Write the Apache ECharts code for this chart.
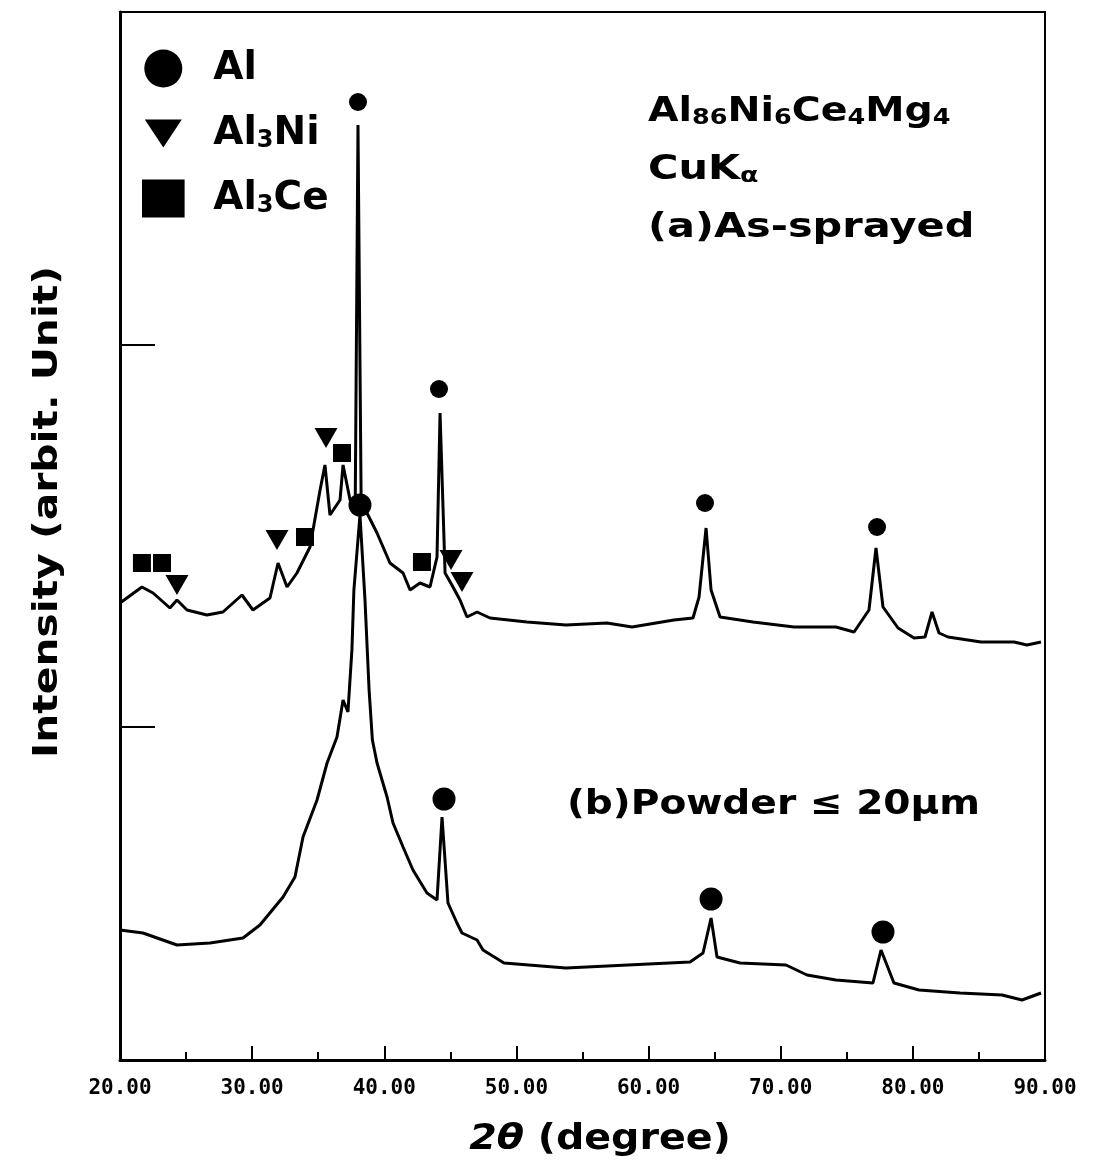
<!DOCTYPE html>
<html>
<head>
<meta charset="utf-8">
<script src="https://cdn.jsdelivr.net/npm/echarts@6/dist/echarts.min.js"></script>
<style>
  html, body { margin: 0; padding: 0; background: #fff; }
  #chart { width: 1096px; height: 1170px; }
</style>
</head>
<body>
<div id="chart"></div>
<script>
// (a) as-sprayed : 2theta (degree) / intensity (arbit. unit)
var thetaA = [20.0, 21.66, 22.50, 23.78, 24.31, 25.07, 26.58, 27.79, 29.23, 30.06, 31.35, 31.96, 32.64, 33.39, 34.38, 35.14, 35.51, 35.89, 36.65, 36.88,
  37.41, 37.80, 38.01, 38.25, 38.69, 39.45, 40.43, 41.42, 41.95, 42.70, 43.46, 43.99, 44.22, 44.60, 45.20, 45.73, 46.26, 47.02, 48.00, 50.80,
  53.75, 56.85, 58.75, 61.92, 63.36, 63.82, 64.35, 64.73, 65.41, 67.90, 71.01, 74.18, 75.55, 76.68, 77.21, 77.74, 78.88, 80.09, 80.92, 81.45,
  81.98, 82.66, 85.16, 87.66, 88.64, 89.70];
var intenA = [457, 473, 467, 452, 460, 450, 445, 448, 465, 450, 462, 497, 473, 487, 513, 570, 595, 545, 560, 595,
  560, 555, 935, 555, 547, 527, 497, 487, 470, 477, 473, 503, 647, 487, 473, 460, 443, 448, 442, 438,
  435, 437, 433, 440, 442, 463, 532, 470, 443, 438, 433, 433, 428, 450, 512, 453, 432, 422, 423, 448,
  427, 423, 418, 418, 415, 418];

// (b) powder <= 20um
var thetaB = [20.0, 21.74, 24.31, 26.81, 29.31, 30.59, 32.34, 33.24, 33.85, 34.91, 35.67, 36.42, 36.88, 37.25, 37.55, 37.70, 38.16, 38.54, 38.85, 39.10,
  39.45, 40.21, 40.66, 41.42, 42.17, 43.23, 43.99, 44.37, 44.82, 45.50, 45.88, 47.02, 47.47, 49.06, 53.75, 58.44, 63.14, 64.12, 64.73, 65.18,
  66.92, 70.40, 71.99, 74.18, 76.98, 77.59, 78.57, 80.47, 83.57, 86.75, 88.26, 89.70];
var intenB = [130, 127, 115, 117, 122, 135, 163, 183, 223, 260, 297, 323, 360, 348, 410, 470, 545, 460, 370, 320,
  297, 263, 237, 213, 190, 167, 160, 243, 157, 137, 127, 120, 110, 97, 92, 95, 98, 107, 142, 103,
  97, 95, 85, 80, 77, 110, 77, 70, 67, 65, 60, 67];

// phase marks
var alThetaA = [38.01, 44.14, 64.27, 77.29];
var alIntenA = [958, 671, 557, 533];
var alThetaB = [38.16, 44.52, 64.73, 77.74];
var alIntenB = [555, 261, 161, 128];
var niTheta = [24.31, 31.88, 35.59, 45.05, 45.88];
var niInten = [475, 520, 622, 500, 478];
var ceTheta = [21.66, 23.18, 34.00, 36.80, 42.85];
var ceInten = [497, 497, 523, 607, 498];

var xTicks = [20, 30, 40, 50, 60, 70, 80, 90];
var yTicks = [333, 715];

function pairs(xs, ys) {
    return xs.map(function (x, i) { return [x, ys[i]]; });
}

var FONT = 'DejaVu Sans';
function rich(size, sub, key) {
    var c = key || 'fill';
    var n = { fontFamily: FONT, fontWeight: 'bold', fontSize: size, verticalAlign: 'bottom' };
    var s = { fontFamily: FONT, fontWeight: 'bold', fontSize: sub, verticalAlign: 'bottom' };
    n[c] = '#000'; s[c] = '#000';
    return { n: n, s: s };
}

var triLegend = 'path://M0,0L37,0L18.5,28Z M18.5,-5L18.5,-5 M18.5,33L18.5,33';
var triMark = 'path://M0,0L10,0L5,8.7Z';
var squareLegend = 'path://M0,0H37V33H0Z';
var square = 'path://M0,0H10V10H0Z';

var chart = echarts.init(document.getElementById('chart'));
var option = {
    animation: false,
    grid: { left: 120, right: 51, top: 12, bottom: 110, show: true, borderColor: '#000', borderWidth: 2 },
    legend: {
        orient: 'vertical',
        left: 137,
        top: 44,
        itemWidth: 90,
        itemHeight: 38,
        itemGap: 26,
        selectedMode: false,
        data: [
            { name: 'Al', icon: 'circle' },
            { name: 'Al3Ni', icon: triLegend },
            { name: 'Al3Ce', icon: squareLegend }
        ],
        formatter: function (name) {
            return name.replace(/^(\D+)(\d)(\D+)$/, '{n|$1}{s|$2}{n|$3}').replace(/^Al$/, '{n|Al}');
        },
        textStyle: { rich: rich(39, 24, 'color') }
    },
    xAxis: {
        type: 'value', min: 20, max: 90, interval: 10,
        axisLine: { lineStyle: { color: '#000', width: 3 } },
        axisTick: { inside: true, length: 14, lineStyle: { color: '#000', width: 2 } },
        minorTick: { show: true, splitNumber: 2, length: 8, lineStyle: { color: '#000', width: 2 } },
        axisLabel: {
            customValues: xTicks,
            margin: 18, color: '#000', fontFamily: 'DejaVu Sans Mono', fontWeight: 'bold', fontSize: 21,
            formatter: function (v) { return v.toFixed(2); }
        },
        splitLine: { show: false }
    },
    yAxis: {
        type: 'value', min: 0, max: 1048,
        axisLine: { show: true, lineStyle: { color: '#000', width: 3 } },
        axisTick: { show: true, inside: true, length: 35, customValues: yTicks, lineStyle: { color: '#000', width: 2 } },
        axisLabel: { show: false },
        splitLine: { show: false }
    },
    graphic: [
        { type: 'text', x: 648, y: 112, scaleX: 1.16, style: { text: '{n|Al}{s|86}{n|Ni}{s|6}{n|Ce}{s|4}{n|Mg}{s|4}', rich: rich(34, 22), verticalAlign: 'middle' } },
        { type: 'text', x: 648, y: 170, scaleX: 1.22, style: { text: '{n|CuK}{s|α}', rich: rich(34, 22), verticalAlign: 'middle' } },
        { type: 'text', x: 648, y: 228, scaleX: 1.22, style: { text: '(a)As-sprayed', fontFamily: FONT, fontWeight: 'bold', fontSize: 34, fill: '#000', verticalAlign: 'middle' } },
        { type: 'text', x: 567, y: 805, scaleX: 1.15, style: { text: '(b)Powder ≤ 20μm', fontFamily: FONT, fontWeight: 'bold', fontSize: 34, fill: '#000', verticalAlign: 'middle' } },
        { type: 'text', x: 48, y: 512, rotation: Math.PI / 2, scaleX: 1.2, style: { text: 'Intensity (arbit. Unit)', fontFamily: FONT, fontWeight: 'bold', fontSize: 34, fill: '#000', align: 'center', verticalAlign: 'middle' } },
        { type: 'text', x: 600, y: 1140, scaleX: 1.1, style: {
            text: '{i|2θ}{n| (degree)}', align: 'center', verticalAlign: 'middle',
            rich: {
                i: { fontFamily: FONT, fontWeight: 'bold', fontStyle: 'italic', fontSize: 36, fill: '#000' },
                n: { fontFamily: FONT, fontWeight: 'bold', fontSize: 36, fill: '#000' }
            }
        } }
    ],
    series: [
        { name: 'a', type: 'line', data: pairs(thetaA, intenA), symbol: 'none', lineStyle: { color: '#000', width: 3 }, itemStyle: { color: '#000' } },
        { name: 'b', type: 'line', data: pairs(thetaB, intenB), symbol: 'none', lineStyle: { color: '#000', width: 3 }, itemStyle: { color: '#000' } },
        { name: 'Al', type: 'scatter', data: pairs(alThetaA, alIntenA), symbol: 'circle', symbolSize: 18, itemStyle: { color: '#000', opacity: 1 } },
        { name: 'Al', type: 'scatter', data: pairs(alThetaB, alIntenB), symbol: 'circle', symbolSize: 23, itemStyle: { color: '#000', opacity: 1 } },
        { name: 'Al3Ni', type: 'scatter', data: pairs(niTheta, niInten), symbol: triMark, symbolSize: [23, 20], itemStyle: { color: '#000', opacity: 1 } },
        { name: 'Al3Ce', type: 'scatter', data: pairs(ceTheta, ceInten), symbol: square, symbolSize: 18, itemStyle: { color: '#000', opacity: 1 } }
    ]
};
chart.setOption(option);
</script>
</body>
</html>
